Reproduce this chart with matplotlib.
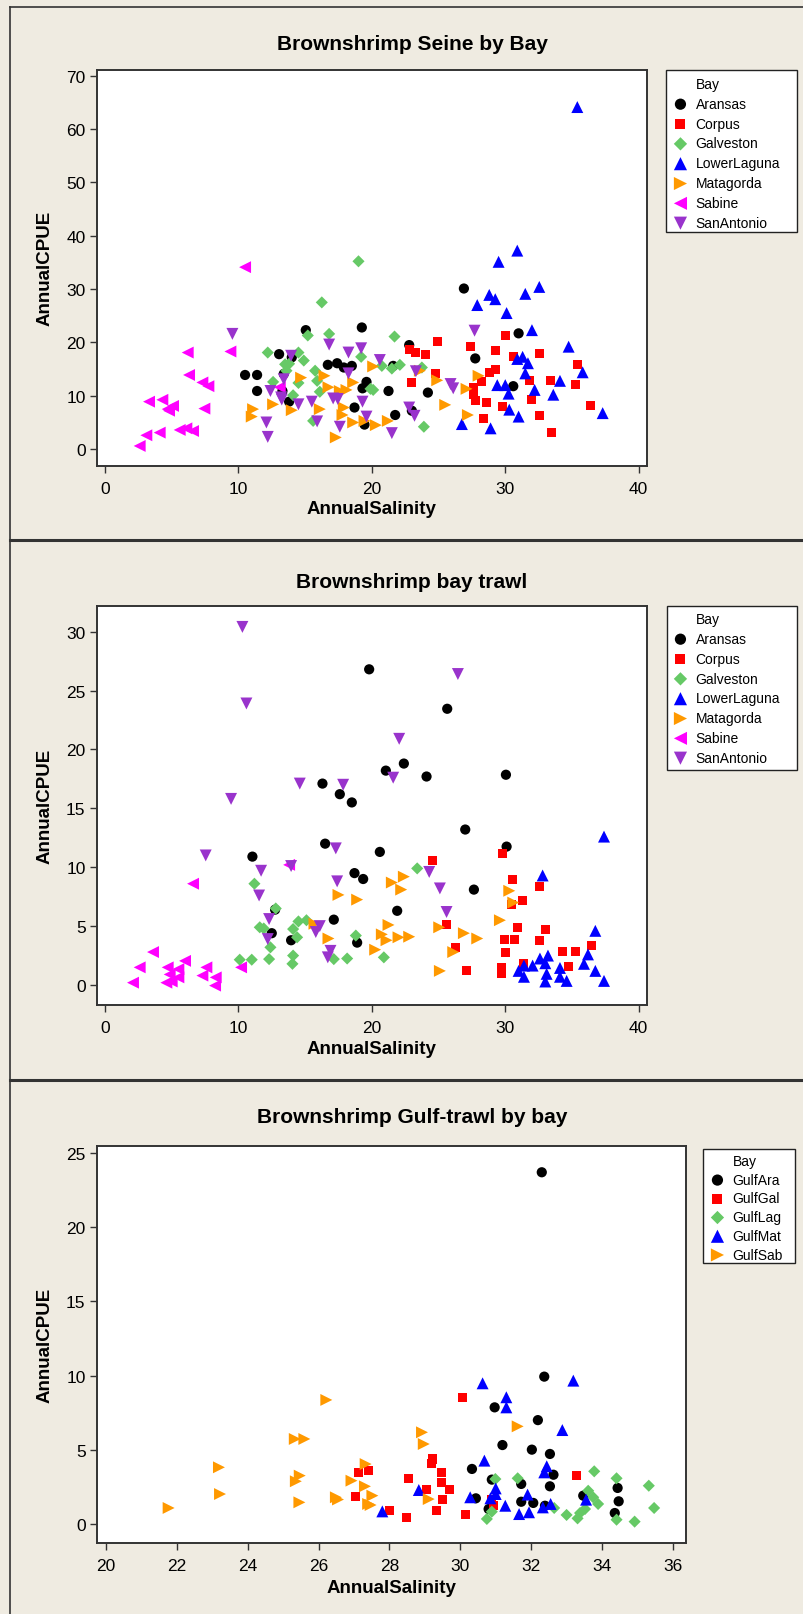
import matplotlib
matplotlib.use("Agg")
import matplotlib.pyplot as plt
from matplotlib.lines import Line2D
from matplotlib.patches import Rectangle

plt.rcParams['font.family'] = ['Liberation Sans', 'DejaVu Sans']

# ---------------- data: Brownshrimp Seine by Bay ----------------
seine_aransas = [(15.05, 22.3), (19.25, 22.8), (13.05, 17.8), (10.5, 13.9), (11.4, 13.9), (11.4, 10.9),
                 (13.4, 14.1), (13.3, 10.9), (13.8, 8.9), (16.7, 15.8), (17.4, 16.1), (17.9, 15.3),
                 (18.5, 15.6), (19.6, 12.6), (19.3, 11.4), (18.7, 7.8), (19.45, 4.6), (22.8, 19.5),
                 (21.6, 15.6), (21.25, 10.9), (24.2, 10.6), (21.75, 6.4), (23.0, 7.2), (26.9, 30.1),
                 (27.75, 17.0), (31.0, 21.7), (30.6, 11.8), (14.0, 17.2)]
seine_corpus = [(24.95, 20.2), (22.8, 18.6), (23.3, 18.1), (24.05, 17.7), (24.75, 14.1), (23.0, 12.4),
                (27.4, 19.2), (30.0, 21.3), (29.25, 18.4), (30.6, 17.4), (32.6, 18.0), (28.8, 14.3),
                (29.25, 15.0), (28.25, 12.6), (27.6, 11.6), (27.6, 10.3), (27.8, 9.1), (28.6, 8.8),
                (29.8, 8.0), (28.4, 5.8), (31.8, 12.8), (33.4, 12.9), (32.0, 9.25), (32.6, 6.25),
                (33.5, 3.1), (35.4, 15.8), (35.25, 12.1), (36.4, 8.1)]
seine_galveston = [(19.0, 35.2), (16.25, 27.5), (15.2, 21.3), (16.8, 21.6), (12.2, 18.1), (13.5, 15.9),
                   (14.5, 18.1), (14.9, 16.6), (13.6, 14.7), (15.75, 14.7), (12.6, 12.6), (14.5, 12.4),
                   (15.9, 12.8), (16.1, 10.75), (14.1, 10.1), (19.2, 17.3), (15.6, 5.3), (19.9, 11.3),
                   (21.7, 21.1), (20.75, 15.6), (21.5, 15.1), (22.1, 15.8), (23.75, 15.3), (20.1, 11.1),
                   (23.9, 4.2), (13.8, 16.0)]
seine_lowerlaguna = [(35.4, 64.1), (30.9, 37.2), (29.5, 35.1), (32.55, 30.4), (31.5, 29.1), (28.8, 28.9),
                     (29.25, 28.1), (27.9, 27.0), (30.1, 25.5), (32.0, 22.3), (34.75, 19.2), (31.3, 17.3),
                     (30.9, 16.9), (31.7, 16.1), (35.8, 14.4), (31.5, 14.2), (34.1, 12.8), (29.4, 12.0),
                     (30.0, 12.0), (30.25, 10.4), (32.2, 11.1), (33.6, 10.2), (30.3, 7.4), (31.0, 6.1),
                     (37.3, 6.75), (26.75, 4.7), (28.9, 3.9)]
seine_matagorda = [(14.7, 13.4), (16.45, 13.75), (16.75, 11.6), (17.6, 10.9), (18.1, 11.1), (18.6, 12.5),
                   (11.1, 7.5), (11.0, 6.1), (12.6, 8.4), (14.0, 7.3), (16.1, 7.5), (17.9, 7.8),
                   (17.8, 6.4), (18.6, 5.0), (19.45, 5.3), (17.3, 2.2), (20.1, 15.5), (23.6, 14.7),
                   (24.9, 12.9), (25.5, 8.3), (27.1, 11.3), (28.0, 13.75), (27.2, 6.4), (20.3, 4.5),
                   (21.2, 5.3)]
seine_sabine = [(10.5, 34.1), (6.2, 18.1), (9.4, 18.3), (6.3, 13.9), (7.3, 12.5), (7.75, 11.8),
                (3.3, 8.9), (4.3, 9.25), (4.7, 7.5), (5.1, 8.1), (4.8, 7.2), (7.45, 7.6), (3.1, 2.6),
                (4.1, 3.1), (5.6, 3.6), (6.1, 3.9), (6.6, 3.4), (2.6, 0.6), (13.1, 11.6)]
seine_sanantonio = [(9.55, 21.6), (13.95, 17.5), (16.8, 19.6), (18.25, 18.1), (19.2, 18.9), (18.25, 14.2),
                    (13.4, 13.1), (12.4, 10.9), (13.2, 9.7), (13.25, 9.3), (14.5, 8.4), (15.5, 8.9),
                    (17.1, 9.5), (17.45, 9.4), (19.3, 8.9), (19.6, 6.1), (15.9, 5.2), (17.6, 4.2),
                    (12.1, 5.0), (12.2, 2.3), (27.7, 22.2), (20.6, 16.7), (23.3, 14.6), (25.9, 12.2),
                    (26.1, 11.4), (22.8, 7.8), (23.2, 6.25), (21.5, 3.0)]

# ---------------- data: Brownshrimp bay trawl ----------------
trawl_aransas = [(19.8, 26.8), (16.3, 17.1), (17.6, 16.2), (18.5, 15.5), (16.5, 12.0), (11.05, 10.9),
                 (18.7, 9.5), (19.35, 9.0), (12.75, 6.4), (17.15, 5.55), (12.5, 4.4), (13.95, 3.8),
                 (18.9, 3.6), (25.65, 23.45), (22.4, 18.8), (21.05, 18.2), (24.1, 17.7), (30.05, 17.85),
                 (27.0, 13.2), (30.1, 11.75), (20.6, 11.3), (27.65, 8.1), (21.9, 6.3)]
trawl_corpus = [(24.55, 10.6), (29.8, 11.2), (30.55, 8.95), (32.55, 8.35), (31.3, 7.2), (30.5, 6.8),
                (25.6, 5.1), (30.95, 4.9), (33.05, 4.75), (29.95, 3.9), (30.7, 3.85), (32.55, 3.8),
                (26.25, 3.2), (30.0, 2.8), (34.3, 2.85), (35.25, 2.85), (36.5, 3.35), (31.4, 1.85),
                (34.75, 1.55), (27.1, 1.2), (29.7, 1.45), (29.7, 0.95)]
trawl_galveston = [(11.2, 8.6), (12.8, 6.5), (11.6, 4.9), (11.9, 4.8), (14.1, 4.75), (14.5, 5.4),
                   (15.1, 5.5), (14.4, 4.05), (12.4, 3.2), (10.1, 2.15), (11.0, 2.15), (12.3, 2.2),
                   (14.1, 2.5), (14.05, 1.8), (17.15, 2.2), (18.15, 2.25), (18.8, 4.2), (23.4, 9.9),
                   (20.9, 2.35)]
trawl_lowerlaguna = [(37.4, 12.6), (32.8, 9.3), (36.75, 4.6), (36.2, 2.6), (35.9, 1.8), (36.75, 1.2),
                     (37.4, 0.35), (32.6, 2.25), (33.2, 2.5), (32.05, 1.65), (31.4, 1.65), (31.0, 1.2),
                     (31.4, 0.7), (33.0, 1.85), (33.1, 0.95), (34.1, 1.45), (34.1, 0.7), (33.0, 0.3),
                     (34.6, 0.35)]
trawl_matagorda = [(17.5, 7.65), (18.9, 7.25), (16.75, 3.95), (15.7, 5.2), (21.5, 8.7), (22.4, 9.2),
                   (22.2, 8.1), (21.25, 5.1), (20.75, 4.3), (21.1, 3.8), (22.0, 4.05), (22.8, 4.1),
                   (20.25, 3.0), (25.05, 4.9), (26.9, 4.4), (27.9, 3.95), (26.1, 2.8), (25.1, 1.2),
                   (29.6, 5.5), (30.3, 8.0), (30.6, 7.0)]
trawl_sabine = [(6.6, 8.6), (3.6, 2.8), (2.6, 1.5), (2.1, 0.2), (4.7, 1.5), (5.5, 1.35), (6.0, 2.05),
                (4.6, 0.2), (5.0, 0.3), (5.5, 0.65), (4.85, 0.9), (7.6, 1.5), (7.3, 0.8), (8.3, 0.65),
                (8.25, -0.05), (10.2, 1.5), (13.8, 10.2)]
trawl_sanantonio = [(10.3, 30.4), (10.6, 23.9), (9.45, 15.8), (14.6, 17.1), (17.85, 17.0), (17.3, 11.6),
                    (7.55, 11.0), (11.7, 9.7), (13.95, 10.1), (17.4, 8.8), (11.55, 7.6), (12.3, 5.6),
                    (12.2, 3.9), (15.8, 4.5), (16.1, 5.0), (16.9, 2.9), (16.7, 2.35), (26.45, 26.4),
                    (22.05, 20.9), (21.6, 17.6), (24.3, 9.6), (25.1, 8.2), (25.6, 6.2)]

# ---------------- data: Brownshrimp Gulf-trawl by bay ----------------
gulf_ara = [(32.3, 23.7), (32.37, 9.93), (30.97, 7.86), (32.19, 7.0), (31.19, 5.32), (32.02, 5.01),
            (32.53, 4.72), (30.33, 3.71), (32.63, 3.32), (30.89, 2.99), (31.72, 2.7), (32.53, 2.54),
            (30.44, 1.73), (31.72, 1.5), (32.06, 1.42), (30.8, 1.01), (32.39, 1.23), (33.47, 1.91),
            (34.44, 2.43), (34.47, 1.53), (34.36, 0.74)]
gulf_gal = [(27.14, 3.48), (27.05, 1.84), (27.42, 3.59), (30.05, 8.54), (29.22, 4.38), (29.18, 4.09),
            (28.55, 3.08), (29.46, 3.48), (29.47, 2.81), (29.69, 2.31), (29.06, 2.31), (29.49, 1.68),
            (28.0, 0.9), (29.33, 0.9), (28.47, 0.45), (30.16, 0.63), (30.89, 1.68), (30.94, 1.23),
            (33.28, 3.26)]
gulf_lag = [(33.78, 3.55), (34.41, 3.08), (35.32, 2.58), (35.47, 1.08), (34.92, 0.16), (34.41, 0.29),
            (30.99, 3.03), (31.62, 3.08), (32.65, 1.08), (33.0, 0.61), (33.31, 0.38), (33.38, 0.74),
            (33.52, 1.01), (33.61, 2.24), (33.75, 1.8), (33.89, 1.35), (30.75, 0.34), (30.89, 0.83)]
gulf_mat = [(30.63, 9.48), (33.19, 9.66), (31.3, 8.54), (31.3, 7.86), (32.88, 6.33), (30.68, 4.27),
            (32.44, 3.89), (32.37, 3.48), (28.83, 2.29), (31.0, 2.4), (31.0, 2.02), (31.9, 1.98),
            (30.28, 1.8), (30.85, 1.73), (31.27, 1.23), (27.8, 0.85), (31.66, 0.67), (31.94, 0.79),
            (32.33, 1.12), (32.55, 1.35), (33.55, 1.64)]
gulf_sab = [(26.22, 8.36), (25.33, 5.73), (25.6, 5.73), (23.19, 3.82), (23.22, 2.02), (21.77, 1.08),
            (25.47, 3.26), (25.36, 2.88), (25.46, 1.46), (26.49, 1.8), (26.55, 1.65), (26.93, 2.92),
            (27.33, 4.04), (27.31, 2.54), (27.4, 1.35), (28.92, 6.18), (28.97, 5.39), (31.62, 6.58),
            (27.52, 1.91), (27.47, 1.28), (29.11, 1.68)]

bay_names = ["Aransas", "Corpus", "Galveston", "LowerLaguna", "Matagorda", "Sabine", "SanAntonio"]
gulf_names = ["GulfAra", "GulfGal", "GulfLag", "GulfMat", "GulfSab"]

# symbol styles (marker, color, size in points^2)
BLACK = ('o', '#000000', 54)
RED = ('s', '#FF0000', 42)
GREEN = ('D', '#66C966', 38)
BLUE = ('^', '#0000FF', 74)
ORANGE = ('>', '#FF9900', 74)
MAGENTA = ('<', '#FF00FF', 74)
PURPLE = ('v', '#9933CC', 74)
bay_styles = [BLACK, RED, GREEN, BLUE, ORANGE, MAGENTA, PURPLE]
gulf_styles = [BLACK, RED, GREEN, BLUE, ORANGE]

W, H = 804, 1615
BG = '#EFEBE1'


def fx(x):
    return x / W


def fy(y):
    return 1 - y / H


fig = plt.figure(figsize=(W / 100, H / 100), dpi=100, facecolor=BG)

panels = [
    dict(title="Brownshrimp Seine by Bay", title_y=45, box=(96.7, 70.7, 646.7, 466.7),
         xlim=(-0.62, 40.6), ylim=(-3.1, 71.1), xticks=range(0, 41, 10), yticks=range(0, 71, 10),
         xlabel_y=510, leg_box=(666, 71, 797, 233), leg_x=673.5, leg_top=78, leg_sp=0.42,
         names=bay_names, styles=bay_styles,
         data=[seine_aransas, seine_corpus, seine_galveston, seine_lowerlaguna,
               seine_matagorda, seine_sabine, seine_sanantonio]),
    dict(title="Brownshrimp bay trawl", title_y=582, box=(96.7, 606.7, 646.7, 1005.7),
         xlim=(-0.62, 40.6), ylim=(-1.67, 32.2), xticks=range(0, 41, 10), yticks=range(0, 31, 5),
         xlabel_y=1050, leg_box=(666.7, 607.3, 796.7, 770.7), leg_x=673.5, leg_top=613, leg_sp=0.42,
         names=bay_names, styles=bay_styles,
         data=[trawl_aransas, trawl_corpus, trawl_galveston, trawl_lowerlaguna,
               trawl_matagorda, trawl_sabine, trawl_sanantonio]),
    dict(title="Brownshrimp Gulf-trawl by bay", title_y=1118, box=(96.7, 1147.3, 686, 1544),
         xlim=(19.74, 36.37), ylim=(-1.28, 25.45), xticks=range(20, 37, 2), yticks=range(0, 26, 5),
         xlabel_y=1589, leg_box=(703, 1150, 795, 1264), leg_x=710.5, leg_top=1155, leg_sp=0.34,
         names=gulf_names, styles=gulf_styles,
         data=[gulf_ara, gulf_gal, gulf_lag, gulf_mat, gulf_sab]),
]

for p in panels:
    l, t, r, b = p['box']
    ax = fig.add_axes([fx(l), fy(b), (r - l) / W, (b - t) / H])
    ax.set_facecolor('white')
    handles = [Line2D([], [], linestyle='none')]
    labels = ["Bay"]
    for name, (mk, col, sz), pts in zip(p['names'], p['styles'], p['data']):
        xs = [v[0] for v in pts]
        ys = [v[1] for v in pts]
        h = ax.scatter(xs, ys, marker=mk, s=sz, color=col, edgecolors='none', label=name)
        handles.append(h)
        labels.append(name)
    ax.set_xlim(*p['xlim'])
    ax.set_ylim(*p['ylim'])
    ax.set_xticks(list(p['xticks']))
    ax.set_yticks(list(p['yticks']))
    ax.tick_params(direction='out', length=5, width=1, labelsize=12.5, color='#333333')
    ax.tick_params(axis='x', pad=6)
    ax.tick_params(axis='y', pad=3)
    for sp in ax.spines.values():
        sp.set_linewidth(1.4)
        sp.set_color('#333333')

    # legend frame
    lb = p['leg_box']
    fig.add_artist(Rectangle((fx(lb[0]), fy(lb[3])), (lb[2] - lb[0]) / W, (lb[3] - lb[1]) / H,
                             transform=fig.transFigure, facecolor='white', edgecolor='#222222',
                             lw=1.0, zorder=-1))
    ax.legend(handles, labels, loc='upper left', bbox_to_anchor=(fx(p['leg_x']), fy(p['leg_top'])),
              bbox_transform=fig.transFigure, frameon=False, borderpad=0, borderaxespad=0,
              handlelength=1.0, handletextpad=0.6, labelspacing=p['leg_sp'], fontsize=10,
              scatterpoints=1, markerscale=1.1)

    fig.text(fx(412), fy(p['title_y']), p['title'], ha='center', va='center',
             fontsize=15, fontweight='bold')
    fig.text(fx((l + r) / 2), fy(p['xlabel_y']), "AnnualSalinity", ha='center', va='center',
             fontsize=13.5, fontweight='bold')
    fig.text(fx(45), fy((t + b) / 2), "AnnualCPUE", ha='center', va='center', rotation=90,
             fontsize=13.5, fontweight='bold')

# frame lines around / between the three graphs
frame = dict(transform=fig.transFigure, color='#333333')
fig.add_artist(Line2D([fx(10), fx(804)], [fy(8), fy(8)], lw=1.2, **frame))
fig.add_artist(Line2D([fx(10), fx(10)], [fy(8), fy(1615)], lw=1.2, **frame))
fig.add_artist(Line2D([fx(10), fx(804)], [fy(541), fy(541)], lw=2.2, **frame))
fig.add_artist(Line2D([fx(10), fx(804)], [fy(1081), fy(1081)], lw=2.2, **frame))

fig.savefig("out.png", dpi=100, facecolor=BG)
